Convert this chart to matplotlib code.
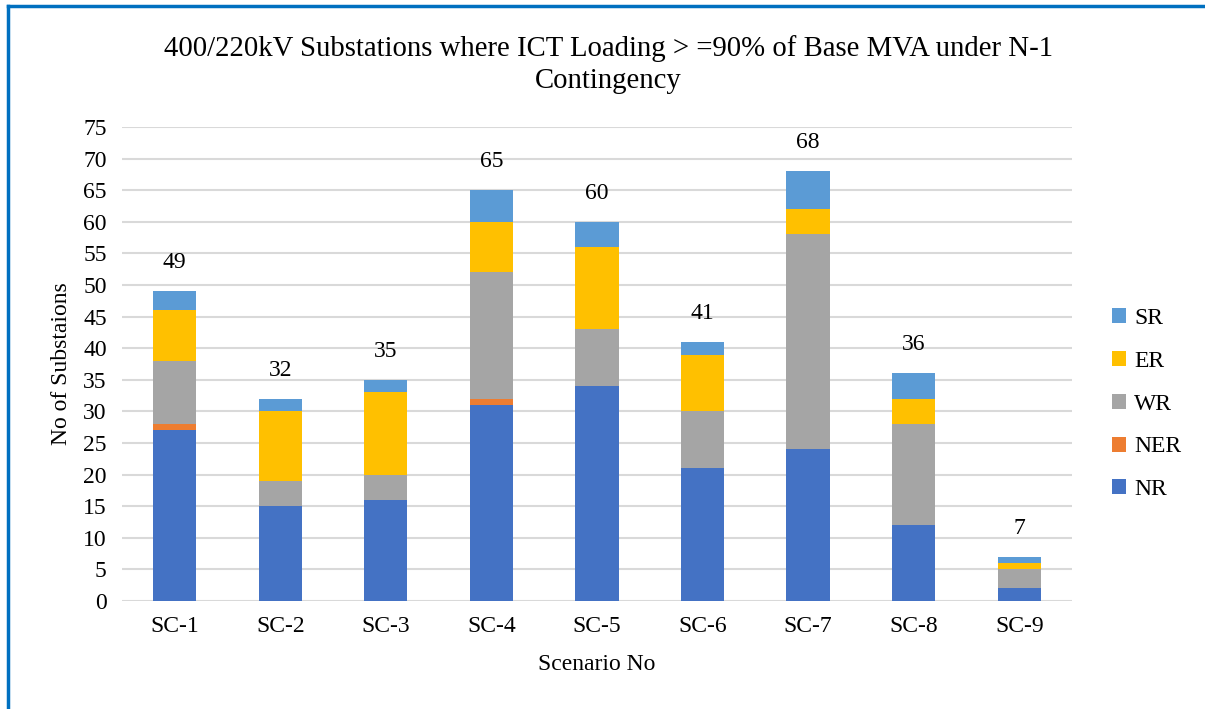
import numpy as np
import matplotlib.pyplot as plt
from matplotlib.lines import Line2D

plt.rcParams['font.family'] = ['Liberation Serif', 'DejaVu Serif']

# Scenario data
scenarios = ['SC-1', 'SC-2', 'SC-3', 'SC-4', 'SC-5', 'SC-6', 'SC-7', 'SC-8', 'SC-9']
nr = [27, 15, 16, 31, 34, 21, 24, 12, 2]
ner = [1, 0, 0, 1, 0, 0, 0, 0, 0]
wr = [10, 4, 4, 20, 9, 9, 34, 16, 3]
er = [8, 11, 13, 8, 13, 9, 4, 4, 1]
sr = [3, 2, 2, 5, 4, 2, 6, 4, 1]

series = [('NR', nr, '#4472C4'), ('NER', ner, '#ED7D31'), ('WR', wr, '#A5A5A5'),
          ('ER', er, '#FFC000'), ('SR', sr, '#5B9BD5')]

fig = plt.figure(figsize=(12.05, 7.09), dpi=100)
ax = fig.add_axes([0.1012, 0.1523, 0.7884, 0.6686])

x = np.arange(len(scenarios))
bottom = np.zeros(len(scenarios))
handles = []
for name, vals, col in series:
    b = ax.bar(x, vals, 0.41, bottom=bottom, color=col, label=name, zorder=3)
    handles.append(b)
    bottom += np.array(vals)

# Totals above bars
for xi, tot in zip(x, bottom):
    ax.annotate(f'{int(tot)}', (xi, tot), xytext=(0, 13), textcoords='offset points',
                ha='center', va='bottom', fontsize=17)

ax.set_xlim(-0.5, len(scenarios) - 0.5)
ax.set_ylim(0, 75)
ax.set_yticks(np.arange(0, 76, 5))
ax.set_xticks(x)
ax.set_xticklabels(scenarios)
ax.tick_params(axis='both', length=0, labelsize=17, pad=11)
ax.grid(axis='y', color='#D9D9D9', linewidth=1.5, zorder=0)
for s in ax.spines.values():
    s.set_visible(False)

ax.set_ylabel('No of Substaions', fontsize=17, labelpad=8)
ax.set_xlabel('Scenario No', fontsize=17, labelpad=12)

fig.text(0.505, 0.909, '400/220kV Substations where ICT Loading > =90% of Base MVA under N-1\nContingency',
         ha='center', va='center', fontsize=20.7, linespacing=1.32)

leg = fig.legend(handles[::-1], [s[0] for s in series][::-1], loc='center left',
                 bbox_to_anchor=(0.905, 0.43), frameon=False, fontsize=17,
                 handlelength=0.6, handleheight=0.6, handletextpad=0.35, labelspacing=0.92)

# Blue frame around chart
fig.add_artist(Line2D([0.0066, 0.0066], [0, 0.9915], transform=fig.transFigure,
                      color='#0070C0', linewidth=2.5))
fig.add_artist(Line2D([0.0066, 1.0], [0.9915, 0.9915], transform=fig.transFigure,
                      color='#0070C0', linewidth=2.5))

fig.savefig('out.png', dpi=100)
